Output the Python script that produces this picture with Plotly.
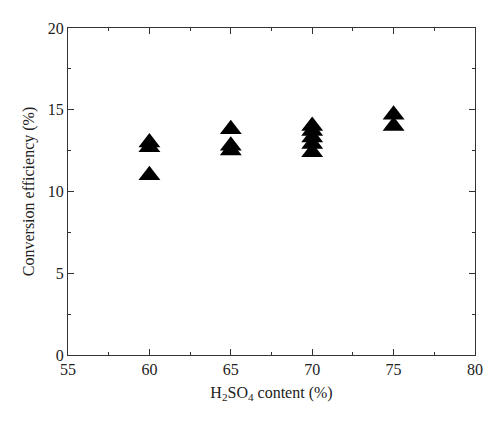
import plotly.graph_objects as go

h2so4_content = [60, 60, 60, 65, 65, 65, 70, 70, 70, 70, 70, 75, 75]
conversion_efficiency = [13.0, 12.7, 11.0, 13.8, 12.8, 12.5, 14.0, 13.7, 13.3, 12.9, 12.4, 14.7, 14.0]

x_ticks = [55, 60, 65, 70, 75, 80]
y_ticks = [0, 5, 10, 15, 20]

fig = go.Figure()
fig.add_trace(go.Scatter(
    x=h2so4_content, y=conversion_efficiency, mode="markers",
    marker=dict(symbol="triangle-up", size=19, color="black", line=dict(width=0)),
    showlegend=False,
))

font = dict(family="Liberation Serif, Times New Roman, serif", size=16, color="#222")
axis_common = dict(
    showline=True, linecolor="#333", linewidth=1.2, mirror="ticks",
    ticks="inside", ticklen=6, tickwidth=1, tickcolor="#333",
    showgrid=False, zeroline=False, tickfont=font,
)
fig.update_xaxes(range=[55, 80], tickvals=x_ticks, ticktext=[str(v) for v in x_ticks],
                 minor=dict(ticks="inside", ticklen=3, tickwidth=1, tickcolor="#333", dtick=2.5, tick0=55),
                 title=dict(text="H<sub>2</sub>SO<sub>4</sub> content (%)", font=font, standoff=9),
                 **axis_common)
fig.update_yaxes(range=[0, 20], tickvals=y_ticks, ticktext=[str(v) for v in y_ticks],
                 minor=dict(ticks="inside", ticklen=3, tickwidth=1, tickcolor="#333", dtick=2.5, tick0=0),
                 title=dict(text="Conversion efficiency (%)", font=font, standoff=9),
                 **axis_common)
fig.update_layout(
    width=500, height=423,
    margin=dict(l=60, r=33, t=18, b=76),
    paper_bgcolor="white", plot_bgcolor="white",
    font=font,
)
fig.write_html("out.html")
